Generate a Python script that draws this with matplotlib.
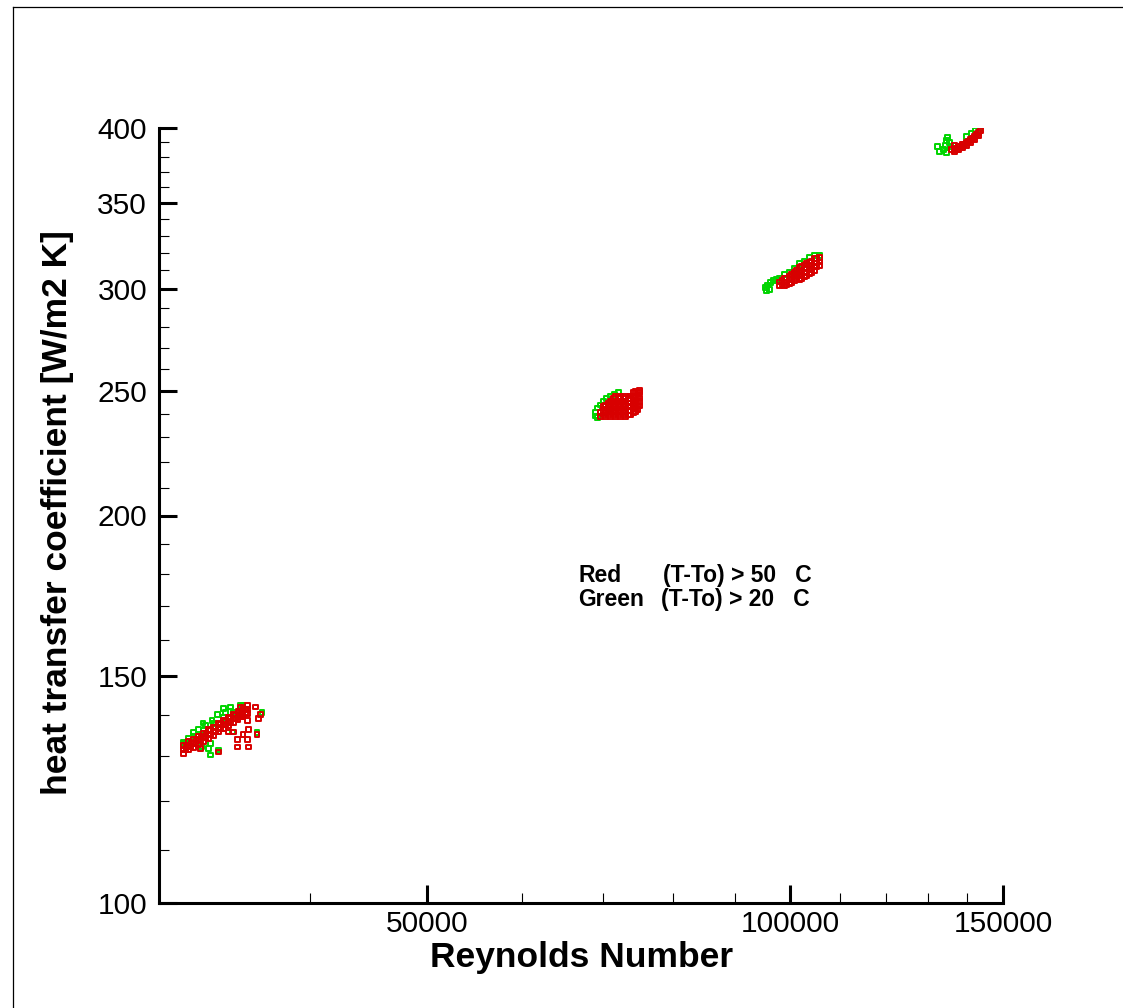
import matplotlib
matplotlib.use('Agg')
import matplotlib.pyplot as plt
from matplotlib.ticker import FixedLocator, FixedFormatter, NullFormatter
from matplotlib.lines import Line2D

plt.rcParams['font.family'] = ['Liberation Sans', 'DejaVu Sans']

# ---------------- data ----------------
# Green: (T-To) > 20 C
green_re = [
    # cluster ~Re 33000
    31430, 32040, 32660, 33270, 33910, 34560, 35210,
    33080, 33080, 32960, 33580, 36510, 36170, 32520, 34370, 33910, 33520,
    32630, 32020, 31530, 34490, 35020, 31740, 32350, 32760, 33190, 34040,
    # cluster ~Re 72000
    69000, 69000, 69260, 69640, 70060, 70460, 70980, 71510, 72060, 69260,
    70310, 71000,
    # cluster ~Re 100000
    95360, 95530, 96090, 95720, 96270, 96830, 97390, 97940, 98870, 99810,
    100770, 101730, 102720, 103690, 104680, 105700,
    # cluster ~Re 137000
    132340, 132830, 133840, 134370, 134610, 134870, 135390, 134610, 135650,
    139860, 141200, 142270, 143360,
]
green_h = [
    133.3, 134.8, 136.2, 137.8, 139.3, 140.7, 142.3,
    130.3, 133.1, 131.9, 131.5, 140.5, 135.6, 132.2, 142.0, 141.7, 140.0,
    138.0, 135.6, 133.1, 135.8, 142.5, 134.3, 136.3, 137.5, 138.7, 140.7,
    239.0, 240.7, 242.4, 243.7, 245.1, 246.4, 247.7, 248.2, 249.1, 238.2,
    240.3, 242.0,
    300.6, 299.0, 299.5, 302.1, 303.2, 304.3, 304.9, 305.9, 307.6, 309.2,
    311.1, 313.7, 315.3, 317.1, 318.2, 318.2,
    386.8, 383.4, 384.8, 387.5, 391.0, 393.1, 389.6, 382.7, 386.8,
    393.8, 395.9, 398.0, 399.8,
]

# Red: (T-To) > 50 C
red_re = [
    # cluster ~Re 33000 (band)
    31430, 31740, 32040, 32350, 32660, 32970, 33270, 33590, 33910, 34230, 34560, 34880, 35210, 35530,
    31430, 31740, 32040, 32350, 32660, 32970, 33270, 33590, 33910, 34230, 34560, 34880, 35210, 35530,
    31430, 31740, 32040, 32350, 32660, 32970, 33270, 33590, 33910, 34230, 34560, 34880, 35210, 35530,
    31585, 31890, 32195, 32505, 32815, 33120, 33430, 33750, 34070, 34395, 34720, 35045, 35370,
    31585, 31890, 32195, 32505, 32815, 33120, 33430, 33750, 34070, 34395, 34720, 35045, 35370,
    # cluster ~Re 33000 (scatter)
    32450, 33580, 34830, 34830, 35570, 35570, 35500, 35210, 36040, 36240,
    36380, 36170, 34230, 34560, 35020, 35150, 35500,
    # cluster ~Re 72000
    69640, 69640,
    70310, 70310, 70310, 70310,
    70980, 70980, 70980, 70980, 70980,
    71660, 71660, 71660, 71660, 71660, 71660,
    72350, 72350, 72350, 72350, 72350, 72350,
    73040, 73040, 73040, 73040, 73040, 73040,
    73730, 73730, 73730, 73730, 73730, 73730,
    74440, 74440, 74440, 74440, 74440, 74440,
    75010, 75010, 75010, 75010, 75010,
    69980, 69980, 69980,
    70650, 70650, 70650, 70650,
    71330, 71330, 71330, 71330, 71330,
    72010, 72010, 72010, 72010, 72010,
    72690, 72690, 72690, 72690, 72690,
    73390, 73390, 73390, 73390, 73390,
    74090, 74090, 74090, 74090, 74090, 74090,
    74730, 74730, 74730, 74730, 74730,
    # cluster ~Re 100000
    97940, 97940,
    98870, 98870, 98870,
    99810, 99810, 99810,
    100770, 100770, 100770,
    101730, 101730, 101730, 101730,
    102720, 102720, 102720, 102720,
    103690, 103690, 103690, 103690,
    104680, 104680, 104680, 104680,
    105700, 105700, 105700,
    98400, 98400,
    99340, 99340, 99340,
    100290, 100290, 100290,
    101240, 101240, 101240,
    102220, 102220, 102220, 102220,
    103190, 103190, 103190, 103190,
    104170, 104170, 104170, 104170,
    105190, 105190, 105190,
    # cluster ~Re 137000
    136690, 136690, 136690, 135900, 137710, 137710, 138760, 138760, 139860, 139860,
    140920, 140920, 141990, 141990, 143070, 143070, 143600,
    137220, 138270, 139310, 140360, 141460, 142550,
]
red_h = [
    131.6, 132.4, 133.1, 133.8, 134.5, 135.3, 136.0, 136.8, 137.6, 138.3, 139.1, 139.8, 140.6, 141.4,
    132.5, 133.4, 134.1, 134.8, 135.5, 136.3, 137.0, 137.8, 138.6, 139.3, 140.1, 140.8, 141.6, 142.4,
    130.7, 131.5, 132.1, 132.8, 133.5, 134.3, 135.0, 135.8, 136.6, 137.3, 138.1, 138.8, 139.6, 140.4,
    132.5, 133.3, 133.9, 134.6, 135.4, 136.1, 136.9, 137.7, 138.4, 139.2, 139.9, 140.7, 141.5,
    131.5, 132.3, 133.0, 133.7, 134.4, 135.2, 135.9, 136.7, 137.5, 138.2, 139.0, 139.7, 140.5,
    131.9, 131.0, 133.9, 132.2, 132.2, 136.3, 133.9, 135.1, 142.0, 139.2,
    140.0, 135.1, 135.8, 135.8, 142.0, 140.0, 138.7,
    238.6, 240.3,
    238.6, 240.3, 242.0, 243.7,
    238.6, 240.3, 242.0, 243.7, 245.5,
    238.6, 240.3, 242.0, 243.7, 245.5, 247.3,
    238.6, 240.3, 242.0, 243.7, 245.5, 247.3,
    238.6, 240.3, 242.0, 243.7, 245.5, 247.3,
    239.4, 241.2, 242.9, 244.6, 246.4, 247.7,
    240.7, 242.4, 244.2, 245.9, 247.7, 249.5,
    243.3, 245.1, 246.8, 249.1, 250.0,
    239.4, 241.2, 242.9,
    239.4, 241.2, 242.9, 244.6,
    239.4, 241.2, 242.9, 244.6, 246.4,
    239.4, 241.2, 242.9, 244.6, 246.4,
    239.4, 241.2, 242.9, 244.6, 246.4,
    239.4, 241.2, 242.9, 244.6, 246.4,
    240.3, 242.0, 243.7, 245.5, 247.3, 249.1,
    241.6, 243.3, 245.1, 246.8, 249.1,
    303.7, 301.6,
    305.4, 303.2, 301.6,
    307.0, 304.9, 302.7,
    308.7, 306.5, 304.3,
    311.5, 309.2, 307.0, 304.9,
    313.1, 311.1, 308.7, 306.5,
    314.8, 312.6, 310.3, 308.1,
    316.5, 314.2, 312.0, 309.8,
    317.1, 314.8, 312.6,
    304.3, 302.1,
    305.9, 303.7, 302.1,
    307.6, 305.4, 303.2,
    309.8, 307.6, 305.4,
    312.0, 309.8, 307.6, 305.4,
    313.7, 311.5, 309.2, 307.0,
    315.3, 313.1, 311.1, 308.7,
    316.5, 314.2, 312.0,
    383.4, 385.5, 387.5, 384.8, 384.8, 386.8, 386.1, 388.3, 387.5, 389.6,
    389.6, 391.7, 391.7, 393.8, 394.5, 396.7, 398.0,
    384.8, 386.8, 388.3, 390.3, 392.4, 395.2,
]

x_major = [50000, 100000, 150000]
x_major_labels = ['50000', '100000', '150000']
x_minor = [40000, 60000, 70000, 80000, 90000, 110000, 120000, 130000, 140000]
y_major = [100, 150, 200, 250, 300, 350, 400]
y_major_labels = ['100', '150', '200', '250', '300', '350', '400']
y_minor = [110, 120, 130, 140, 160, 170, 180, 190, 210, 220, 230, 240,
           260, 270, 280, 290, 310, 320, 330, 340, 360, 370, 380, 390]

x_label = 'Reynolds Number'
y_label = 'heat transfer coefficient [W/m2 K]'
legend_names = ['Red', 'Green']
legend_conds = ['(T-To) > 50   C', '(T-To) > 20   C']

# ---------------- figure ----------------
W, H = 1123, 1008
fig = plt.figure(figsize=(W / 100, H / 100), dpi=100)
ax = fig.add_axes([159 / W, 1 - 903 / H, (1003 - 159) / W, (903 - 128) / H])
ax.set_xscale('log')
ax.set_yscale('log')

ax.scatter(green_re, green_h, marker='s', s=12, facecolors='none',
           edgecolors='#00d400', linewidths=1.4, zorder=3)
ax.scatter(red_re, red_h, marker='s', s=12, facecolors='none',
           edgecolors='#d80000', linewidths=1.4, zorder=4)

ax.set_xlim(30000, 150000)
ax.set_ylim(100, 400)

ax.xaxis.set_major_locator(FixedLocator(x_major))
ax.xaxis.set_major_formatter(FixedFormatter(x_major_labels))
ax.xaxis.set_minor_locator(FixedLocator(x_minor))
ax.xaxis.set_minor_formatter(NullFormatter())
ax.yaxis.set_major_locator(FixedLocator(y_major))
ax.yaxis.set_major_formatter(FixedFormatter(y_major_labels))
ax.yaxis.set_minor_locator(FixedLocator(y_minor))
ax.yaxis.set_minor_formatter(NullFormatter())

for s in ['top', 'right']:
    ax.spines[s].set_visible(False)
for s in ['left', 'bottom']:
    ax.spines[s].set_linewidth(2.2)

ax.tick_params(which='major', direction='in', length=13, width=2.2,
               labelsize=21.5, colors='black')
ax.tick_params(which='minor', direction='in', length=7.5, width=0.8)
ax.tick_params(axis='y', which='major', pad=8.6)
ax.tick_params(axis='x', which='major', pad=5)

fig.text(581.5 / W, 1 - 958 / H, x_label, ha='center', va='center',
         fontsize=25.5, fontweight='bold')
fig.text(58 / W, 1 - 512.5 / H, y_label, ha='center', va='center',
         rotation=90, fontsize=25.5, fontweight='bold')

# in-plot legend text
fig.text(578 / W, 1 - 582 / H, legend_names[0], ha='left', va='baseline',
         fontsize=16.5, fontweight='bold')
fig.text(663 / W, 1 - 582 / H, legend_conds[0], ha='left', va='baseline',
         fontsize=16.5, fontweight='bold')
fig.text(578 / W, 1 - 606 / H, legend_names[1], ha='left', va='baseline',
         fontsize=16.5, fontweight='bold')
fig.text(661 / W, 1 - 606 / H, legend_conds[1], ha='left', va='baseline',
         fontsize=16.5, fontweight='bold')

# outer frame (left & top visible)
fig.add_artist(Line2D([12.5 / W, 12.5 / W], [0, 1 - 6.5 / H], color='black',
                      lw=0.9, transform=fig.transFigure))
fig.add_artist(Line2D([12.5 / W, 1], [1 - 6.5 / H, 1 - 6.5 / H], color='black',
                      lw=0.9, transform=fig.transFigure))

fig.savefig('out.png', dpi=100)
